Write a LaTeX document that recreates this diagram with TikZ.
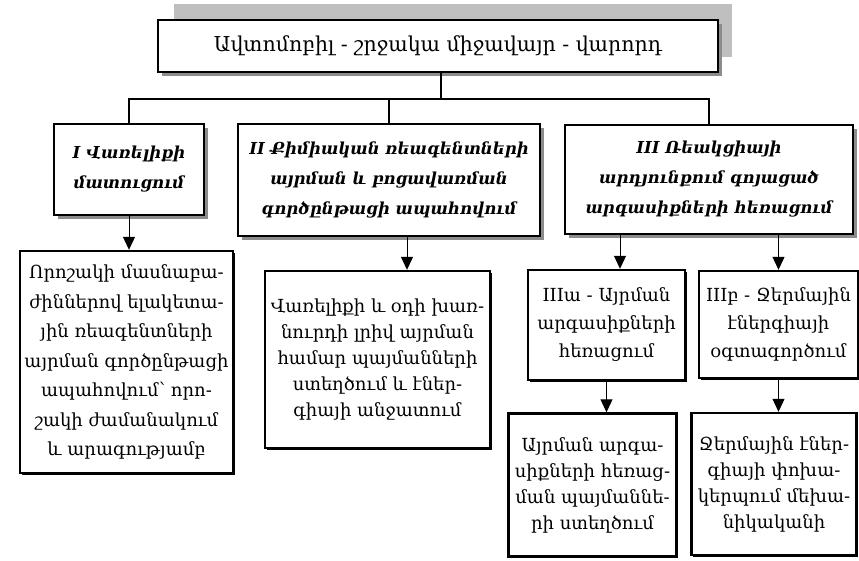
\documentclass[tikz,border=0pt]{standalone}
\usepackage{fontspec}
\setmainfont{DejaVu Serif}
\usetikzlibrary{arrows.meta,shadows}

\begin{document}
\begin{tikzpicture}[x=1pt,y=-1pt,
  topbox/.style={draw,line width=2.2pt,fill=white,align=center,inner sep=1pt,
    font=\fontsize{20.5}{26}\selectfont,
    drop shadow={shadow xshift=3.5pt,shadow yshift=-3.5pt,fill=black!45,opacity=1}},
  headbox/.style={topbox,font=\fontsize{16.5}{30}\selectfont\bfseries\itshape},
  lowbox/.style={draw,line width=2.4pt,fill=white,align=center,inner sep=1pt,
    font=\fontsize{18}{26}\selectfont,
    drop shadow={shadow xshift=1.5pt,shadow yshift=-1.5pt,fill=black,opacity=1}},
  arr/.style={line width=1pt,-{Triangle[width=12pt,length=13pt]}},
  wire/.style={line width=1.2pt}]
\useasboundingbox (0,0) rectangle (859,560);
% banner behind the title
\fill[black!25] (174,4) rectangle (732,57);
\node[topbox,minimum width=560pt,minimum height=52pt] (title) at (438,46)
  {Ավտոմոբիլ - շրջակա միջավայր - վարորդ};
% first level
\node[headbox,minimum width=150pt,minimum height=91pt] (I) at (129,169.5)
  {I Վառելիքի\\մատուցում};
\node[headbox,minimum width=302pt,minimum height=112pt] (II) at (389,180)
  {II Քիմիական ռեագենտների\\այրման և բոցավառման\\գործընթացի ապահովում};
\node[headbox,minimum width=288pt,minimum height=109pt] (III) at (709,179.5)
  {III Ռեակցիայի\\արդյունքում գոյացած\\արգասիքների հեռացում};
% second level
\node[lowbox,minimum width=213pt,minimum height=222pt,font=\fontsize{18}{29.5}\selectfont] (Ia) at (126.5,362)
  {Որոշակի մասնաբա-\\ժիններով ելակետա-\\յին ռեագենտների\\այրման գործընթացի\\ապահովում՝ որո-\\շակի ժամանակում\\և արագությամբ};
\node[lowbox,minimum width=225pt,minimum height=177pt] (IIa) at (377.5,359.5)
  {Վառելիքի և օդի խառ-\\նուրդի լրիվ այրման\\համար պայմանների\\ստեղծում և էներ-\\գիայի անջատում};
\node[lowbox,minimum width=157pt,minimum height=110pt,font=\fontsize{18}{28}\selectfont] (IIIa) at (606.5,325)
  {IIIա - Այրման\\արգասիքների\\հեռացում};
\node[lowbox,minimum width=159pt,minimum height=107pt,font=\fontsize{18}{28}\selectfont] (IIIb) at (778.5,324.5)
  {IIIբ - Ջերմային\\էներգիայի\\օգտագործում};
% third level
\node[lowbox,minimum width=168pt,minimum height=143pt] (IIIa2) at (592.5,485)
  {Այրման արգա-\\սիքների հեռաց-\\ման պայմաննե-\\րի ստեղծում};
\node[lowbox,minimum width=165pt,minimum height=142pt] (IIIb2) at (774,484)
  {Ջերմային էներ-\\գիայի փոխա-\\կերպում մեխա-\\նիկականի};
% bus
\coordinate (bus) at (441,99);
\draw[wire] (title.south -| bus) -- (bus);
\draw[wire] (I.north) |- (bus) -| (III.north);
\draw[wire] (II.north) -- (II.north |- bus);
% arrows
\draw[arr] (I.south) -- (I.south |- Ia.north);
\draw[arr] ([xshift=18pt]II.south) -- ([xshift=18pt]II.south |- IIa.north);
\draw[arr] ([xshift=-89pt]III.south) -- ([xshift=-89pt]III.south |- IIIa.north);
\draw[arr] (IIIb.north |- III.south) -- (IIIb.north);
\draw[arr] (IIIa.south) -- (IIIa.south |- IIIa2.north);
\draw[arr] (IIIb.south) -- (IIIb.south |- IIIb2.north);
\end{tikzpicture}
\end{document}
